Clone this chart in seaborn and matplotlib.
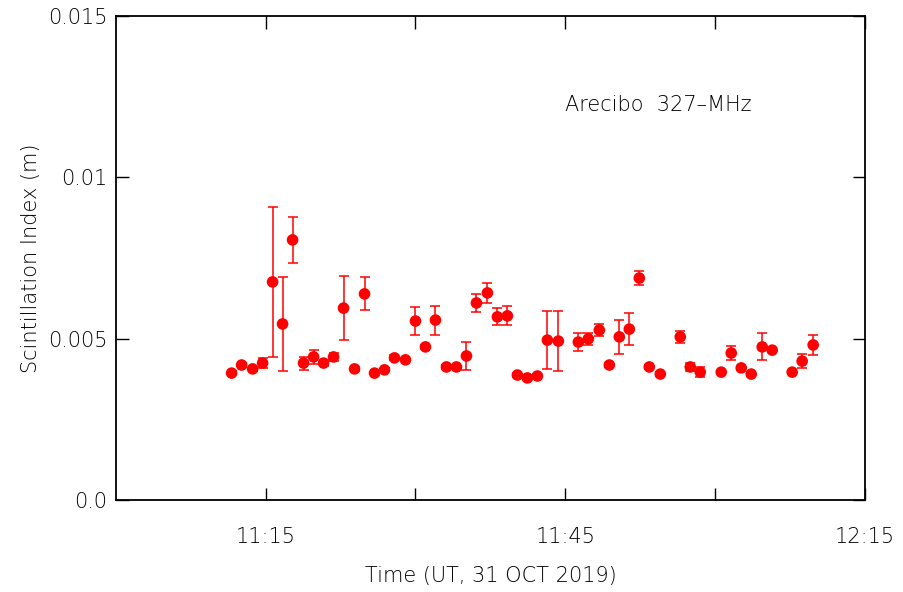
import matplotlib
matplotlib.use("Agg")
import matplotlib.pyplot as plt
import numpy as np
import pandas as pd
import seaborn as sns

# time in minutes after 11:00 UT
minutes = [11.6, 12.6, 13.7, 14.7, 15.7, 16.7, 17.7, 18.8, 19.8, 20.8,
           21.8, 22.8, 23.9, 24.9, 25.9, 26.9, 27.9, 29.0, 30.0, 31.0,
           32.0, 33.1, 34.1, 35.1, 36.1, 37.2, 38.2, 39.2, 40.2, 41.2,
           42.2, 43.2, 44.3, 46.3, 47.3, 48.4, 49.4, 50.4, 51.4, 52.4,
           53.4, 54.5, 56.5, 57.5, 58.5, 60.6, 61.6, 62.6, 63.6, 64.7,
           65.7, 67.7, 68.7, 69.8]
# scintillation index, in units of 1e-3
m_index = [3.94, 4.19, 4.07, 4.25, 6.76, 5.46, 8.06, 4.25, 4.44, 4.25,
           4.44, 5.95, 4.07, 6.39, 3.94, 4.04, 4.41, 4.35, 5.55, 4.75,
           5.58, 4.13, 4.13, 4.47, 6.11, 6.42, 5.68, 5.71, 3.88, 3.79,
           3.85, 4.96, 4.93, 4.90, 5.00, 5.27, 4.19, 5.06, 5.30, 6.88,
           4.13, 3.91, 5.06, 4.13, 3.97, 3.97, 4.56, 4.10, 3.91, 4.75,
           4.65, 3.97, 4.31, 4.81]
m_err = [0.05, 0.05, 0.05, 0.15, 2.33, 1.45, 0.71, 0.20, 0.22, 0.08,
         0.12, 1.00, 0.05, 0.51, 0.05, 0.05, 0.08, 0.05, 0.42, 0.05,
         0.45, 0.05, 0.05, 0.42, 0.28, 0.31, 0.26, 0.29, 0.05, 0.05,
         0.05, 0.90, 0.93, 0.28, 0.18, 0.19, 0.05, 0.53, 0.49, 0.22,
         0.05, 0.05, 0.19, 0.12, 0.15, 0.05, 0.22, 0.05, 0.05, 0.42,
         0.05, 0.05, 0.22, 0.31]

tick_pos = [15, 30, 45, 60, 75]
tick_labels = ["11:15", "", "11:45", "", "12:15"]
ytick_pos = [0.0, 0.005, 0.01, 0.015]
ytick_labels = ["0.0", "0.005", "0.01", "0.015"]

df = pd.DataFrame({"t": minutes,
                   "m": np.array(m_index) * 1e-3,
                   "err": np.array(m_err) * 1e-3})

sns.set_style("ticks")
plt.rcParams["font.family"] = ["DejaVu Sans"]
plt.rcParams["font.weight"] = "light"
plt.rcParams["axes.labelweight"] = "light"
plt.rcParams["text.color"] = "black"
plt.rcParams["axes.labelcolor"] = "black"

FS = 15

fig = plt.figure(figsize=(9.04, 5.92), dpi=100)
ax = fig.add_axes([0.128, 0.1546, 0.829, 0.8192])

ax.errorbar(df["t"], df["m"], yerr=df["err"], fmt="none", ecolor="#ff0000",
            elinewidth=1.1, capsize=3.3, capthick=1.1, zorder=2)
sns.scatterplot(data=df, x="t", y="m", ax=ax, color="#ff0000", s=70,
                edgecolor="none", zorder=3, legend=False)

ax.set_xlim(0, 75)
ax.set_ylim(0, 0.015)
ax.set_xticks(tick_pos)
ax.set_xticklabels(tick_labels)
ax.set_yticks(ytick_pos)
ax.set_yticklabels(ytick_labels)
ax.tick_params(direction="in", length=9, width=1.0, top=True, right=True,
               labelsize=FS, colors="black")
ax.tick_params(axis="x", pad=19)
ax.tick_params(axis="y", pad=6)
for sp in ax.spines.values():
    sp.set_visible(True)
    sp.set_linewidth(1.3)
    sp.set_color("black")

ax.set_xlabel("Time (UT, 31 OCT 2019)", fontsize=FS, labelpad=14,
              fontweight="light")
ax.set_ylabel("Scintillation Index (m)", fontsize=FS, labelpad=5,
              fontweight="light")
ax.text(0.6, 0.815, "Arecibo  327\u2013MHz", transform=ax.transAxes,
        fontsize=FS, va="center", ha="left", fontweight="light")

fig.savefig("out.png", dpi=100)
